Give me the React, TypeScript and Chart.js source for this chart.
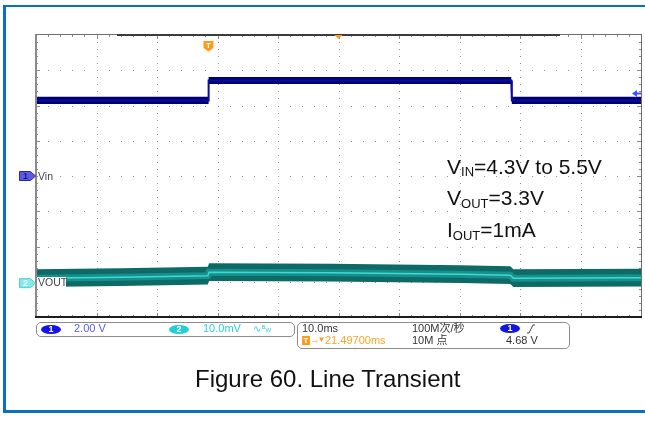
import React, { useEffect, useRef } from "react";
import { Chart, registerables } from "chart.js";

Chart.register(...registerables);

// ---- scope settings ----
const TIME_PER_DIV_MS = 10;
const H_DIVS = 10;
const V_DIVS = 8;
const H_POSITION_MS = 21.497; // screen centre relative to trigger
const CH1_V_PER_DIV = 2;
const CH2_MV_PER_DIV = 10;
const CH1_OFFSET_DIV = 0;
const CH2_OFFSET_DIV = -3.04;
const TRIGGER_LEVEL_V = 4.68;

// ---- channel 1: Vin (V) ----
const vinTimeMs = [-28.5, -0.03, 0.03, 50.05, 50.15, 71.5];
const vinVolts = [4.29, 4.29, 5.42, 5.42, 4.29, 4.29];
const VIN_NOISE_PP_V = 0.4;

// ---- channel 2: Vout (mV, AC coupled) ----
const voutTimeMs = [-28.5, -14.5, -0.1, 0.1, 20.2, 41.7, 49.9, 50.4, 71.5];
const voutMv = [1.42, 1.7, 2.13, 3.12, 2.98, 2.55, 2.27, 1.42, 1.56];
const VOUT_NOISE_PP_MV = 5.0;

const X_MIN = H_POSITION_MS - (H_DIVS / 2) * TIME_PER_DIV_MS;
const X_MAX = H_POSITION_MS + (H_DIVS / 2) * TIME_PER_DIV_MS;

const FONT = "'Liberation Sans', Arial, 'Noto Sans CJK SC', sans-serif";

const scopeDecor = {
  id: "scopeDecor",
  beforeDatasetsDraw(chart: any) {
    const { ctx, chartArea: a, scales } = chart;
    const x = scales.x;
    const y = scales.y;
    const W = a.right - a.left;
    const H = a.bottom - a.top;
    ctx.save();
    ctx.fillStyle = "#939393";
    for (let i = 1; i < H_DIVS; i++) {
      const px = Math.round(x.getPixelForValue(X_MIN + i * TIME_PER_DIV_MS));
      for (let j = 1; j < V_DIVS * 5; j++) {
        const py = Math.round(a.top + (j * H) / (V_DIVS * 5));
        ctx.fillRect(px, py, 1, 1);
      }
    }
    for (let i = 1; i < V_DIVS; i++) {
      const py = Math.round(y.getPixelForValue(-V_DIVS / 2 + i));
      for (let j = 1; j < H_DIVS * 5; j++) {
        const px = Math.round(a.left + (j * W) / (H_DIVS * 5));
        ctx.fillRect(px, py, 1, 1);
      }
    }
    ctx.fillStyle = "#8a8a8a";
    for (let j = 1; j < V_DIVS * 5; j++) {
      const py = Math.round(a.top + (j * H) / (V_DIVS * 5));
      const len = j % 5 === 0 ? 4 : 2;
      ctx.fillRect(a.left, py, len, 1);
      ctx.fillRect(a.right - len, py, len, 1);
    }
    for (let j = 1; j < H_DIVS * 5; j++) {
      const px = Math.round(a.left + (j * W) / (H_DIVS * 5));
      const len = j % 5 === 0 ? 4 : 2;
      ctx.fillRect(px, a.top, 1, len);
      ctx.fillRect(px, a.bottom - len, 1, len);
    }
    ctx.restore();
  },
  afterDatasetsDraw(chart: any) {
    const { ctx, chartArea: a, scales } = chart;
    const x = scales.x;
    const y = scales.y;
    const W = a.right - a.left;
    const H = a.bottom - a.top;
    ctx.save();
    // borders
    ctx.fillStyle = "#8a8a8a";
    ctx.fillRect(a.left - 1, a.top - 1, 2, H + 1);
    ctx.fillStyle = "#6e6e6e";
    ctx.fillRect(a.left, a.top - 1, W, 1);
    ctx.fillRect(a.right, a.top - 1, 1, H + 1);
    ctx.fillStyle = "#3c3c3c";
    ctx.fillRect(117, a.top - 1, 443, 2);
    ctx.fillStyle = "#1e1e1e";
    ctx.fillRect(a.left - 1, a.bottom - 1, W + 2, 2);

    // trigger position marker (T)
    const tx = x.getPixelForValue(0);
    ctx.fillStyle = "#ff9a1a";
    ctx.beginPath();
    ctx.moveTo(tx - 5, 41);
    ctx.lineTo(tx + 5, 41);
    ctx.lineTo(tx + 5, 48);
    ctx.lineTo(tx, 51.5);
    ctx.lineTo(tx - 5, 48);
    ctx.closePath();
    ctx.fill();
    ctx.fillStyle = "#ffffff";
    ctx.font = "bold 8px " + FONT;
    ctx.textAlign = "center";
    ctx.textBaseline = "middle";
    ctx.fillText("T", tx, 45.5);

    // horizontal position marker
    const cx = x.getPixelForValue(H_POSITION_MS);
    ctx.fillStyle = "#ff9a1a";
    ctx.beginPath();
    ctx.moveTo(cx - 4, a.top);
    ctx.lineTo(cx + 4, a.top);
    ctx.lineTo(cx, a.top + 4);
    ctx.closePath();
    ctx.fill();

    // trigger level arrow
    const ty = y.getPixelForValue(TRIGGER_LEVEL_V / CH1_V_PER_DIV + CH1_OFFSET_DIV);
    ctx.fillStyle = "#3a55ff";
    ctx.beginPath();
    ctx.moveTo(a.right - 9, ty);
    ctx.lineTo(a.right - 4, ty - 3.5);
    ctx.lineTo(a.right - 4, ty + 3.5);
    ctx.closePath();
    ctx.fill();
    ctx.fillRect(a.right - 5, ty - 1, 5, 2);

    // channel ground markers
    const marker = (cy: number, fill: string, stroke: string, label: string, lc: string) => {
      ctx.beginPath();
      ctx.moveTo(19.5, cy - 4.5);
      ctx.lineTo(30.5, cy - 4.5);
      ctx.lineTo(35.5, cy);
      ctx.lineTo(30.5, cy + 4.5);
      ctx.lineTo(19.5, cy + 4.5);
      ctx.closePath();
      ctx.fillStyle = fill;
      ctx.fill();
      ctx.strokeStyle = stroke;
      ctx.lineWidth = 1;
      ctx.stroke();
      ctx.fillStyle = lc;
      ctx.font = "bold 9px " + FONT;
      ctx.fillText(label, 25.5, cy + 0.5);
    };
    marker(y.getPixelForValue(CH1_OFFSET_DIV), "#5a5ae6", "#2a2a9a", "1", "#1c1c78");
    marker(y.getPixelForValue(CH2_OFFSET_DIV), "#86e9e9", "#55cccc", "2", "#e8ffff");
    ctx.restore();
  },
};

const Txt = ({ x, base, size, color = "#333", children, bg }: any) => (
  <div
    style={{
      position: "absolute",
      left: x,
      top: base - 0.8465 * size,
      fontSize: size,
      lineHeight: size + "px",
      color,
      whiteSpace: "nowrap",
      fontFamily: FONT,
      background: bg,
    }}
  >
    {children}
  </div>
);

const Badge = ({ x, y, bg, label }: any) => (
  <div
    style={{
      position: "absolute",
      left: x,
      top: y,
      width: 20,
      height: 9,
      borderRadius: "50%",
      background: bg,
      color: "#fff",
      fontSize: 9,
      fontWeight: "bold",
      lineHeight: "9px",
      textAlign: "center",
      fontFamily: FONT,
    }}
  >
    {label}
  </div>
);

export default function App() {
  const ref = useRef<HTMLCanvasElement>(null);

  useEffect(() => {
    const toVin = (v: number) => v / CH1_V_PER_DIV + CH1_OFFSET_DIV;
    const toVout = (mv: number) => mv / CH2_MV_PER_DIV + CH2_OFFSET_DIV;
    const vinUp = vinTimeMs.map((t, i) => ({ x: t, y: toVin(vinVolts[i] + VIN_NOISE_PP_V / 2) }));
    const vinLo = vinTimeMs.map((t, i) => ({ x: t, y: toVin(vinVolts[i] - VIN_NOISE_PP_V / 2) }));
    const vinMid = vinTimeMs.map((t, i) => ({ x: t, y: toVin(vinVolts[i]) }));
    const voUp = voutTimeMs.map((t, i) => ({ x: t, y: toVout(voutMv[i] + VOUT_NOISE_PP_MV / 2) }));
    const voLo = voutTimeMs.map((t, i) => ({ x: t, y: toVout(voutMv[i] - VOUT_NOISE_PP_MV / 2) }));
    const voMid = voutTimeMs.map((t, i) => ({ x: t, y: toVout(voutMv[i]) }));

    const none = "rgba(0,0,0,0)";
    const chart = new Chart(ref.current as HTMLCanvasElement, {
      type: "line",
      data: {
        datasets: [
          // index 0 is drawn last (on top)
          { data: vinMid, borderWidth: 2, borderColor: "#0b0ba0", fill: false },
          { data: voMid, borderWidth: 1.5, borderColor: "#3ddbd3", fill: false },
          { data: voMid, borderWidth: 7, borderColor: "#178f8a", fill: false },
          { data: vinUp, borderWidth: 0, borderColor: none, fill: false },
          { data: vinLo, borderWidth: 0, borderColor: none, fill: 3, backgroundColor: "#000070" },
          { data: voUp, borderWidth: 0, borderColor: none, fill: false },
          { data: voLo, borderWidth: 0, borderColor: none, fill: 5, backgroundColor: "#0d6a66" },
        ] as any,
      },
      options: {
        animation: false,
        responsive: false,
        events: [],
        layout: { padding: { left: 36, top: 35, right: 4, bottom: 122 } },
        plugins: { legend: { display: false }, tooltip: { enabled: false } },
        scales: {
          x: { type: "linear", min: X_MIN, max: X_MAX, display: false },
          y: { type: "linear", min: -V_DIVS / 2, max: V_DIVS / 2, display: false },
        },
        elements: { point: { radius: 0 }, line: { tension: 0 } },
        datasets: { line: { clip: 0 } } as any,
      },
      plugins: [scopeDecor],
    } as any);
    return () => chart.destroy();
  }, []);

  const blue = "#0a6fbe";
  return (
    <div
      style={{
        position: "fixed",
        left: 0,
        top: 0,
        width: 645,
        height: 439,
        background: "#fff",
        overflow: "hidden",
      }}
    >
      <canvas ref={ref} width={645} height={439} style={{ position: "absolute", left: 0, top: 0 }} />

      {/* frame */}
      <div style={{ position: "absolute", left: 3, top: 5, width: 3, height: 408, background: blue }} />
      <div style={{ position: "absolute", left: 3, top: 5, width: 642, height: 2, background: blue }} />
      <div style={{ position: "absolute", left: 3, top: 410, width: 642, height: 3, background: blue }} />

      {/* channel labels */}
      <Txt x={38} base={179.5} size={10.5} color="#444" bg="#fff">Vin</Txt>
      <div style={{ position: "absolute", left: 37, top: 277, width: 29, height: 11, background: "#fff" }} />
      <Txt x={38} base={286.3} size={10.5} color="#444">VOUT</Txt>

      {/* annotation */}
      <Txt x={447} base={173.3} size={21} color="#111">
        V<span style={{ fontSize: 13, position: "relative", top: 2.5, lineHeight: 0 }}>IN</span>=4.3V to 5.5V
      </Txt>
      <Txt x={447} base={205} size={21} color="#111">
        V<span style={{ fontSize: 13, position: "relative", top: 2.5, lineHeight: 0 }}>OUT</span>=3.3V
      </Txt>
      <Txt x={447} base={237} size={21} color="#111">
        I<span style={{ fontSize: 13, position: "relative", top: 2.5, lineHeight: 0 }}>OUT</span>=1mA
      </Txt>

      {/* info panel 1 */}
      <div
        style={{
          position: "absolute",
          left: 36,
          top: 322,
          width: 257,
          height: 13,
          border: "1px solid #8c8c8c",
          borderRadius: 5,
        }}
      />
      <Badge x={41} y={324.5} bg="#1414e6" label="1" />
      <Txt x={74} base={332.3} size={11} color="#5a5af0">2.00 V</Txt>
      <Badge x={169} y={324.5} bg="#1fd0d8" label="2" />
      <Txt x={203} base={332.3} size={11} color="#2ad0da">10.0mV</Txt>
      <Txt x={253} base={332.3} size={11} color="#2ad0da">
        <span style={{ fontFamily: "'DejaVu Sans'", fontSize: 10 }}>∿</span>
        <span style={{ fontSize: 6, position: "relative", top: -3, lineHeight: 0 }}>B</span>
        <span style={{ fontSize: 6, position: "relative", top: 0, lineHeight: 0 }}>W</span>
      </Txt>

      {/* info panel 2 */}
      <div
        style={{
          position: "absolute",
          left: 297,
          top: 322,
          width: 271,
          height: 25,
          border: "1px solid #8c8c8c",
          borderRadius: 5,
        }}
      />
      <Txt x={302} base={332.3} size={11} color="#333">10.0ms</Txt>
      <Txt x={412} base={332.3} size={11} color="#333">100M次/秒</Txt>
      <Badge x={500} y={324} bg="#1414e6" label="1" />
      <svg style={{ position: "absolute", left: 525, top: 324 }} width={12} height={10}>
        <polyline points="2,9 4,9 8,1 10,1" fill="none" stroke="#444" strokeWidth={1} />
      </svg>
      <div
        style={{
          position: "absolute",
          left: 302,
          top: 335.5,
          width: 8,
          height: 9,
          background: "#ff9a1a",
          color: "#fff",
          fontSize: 8,
          fontWeight: "bold",
          lineHeight: "9px",
          textAlign: "center",
          fontFamily: FONT,
        }}
      >
        T
      </div>
      <Txt x={310.5} base={343.5} size={9} color="#ff9a1a">→</Txt>
      <Txt x={317.5} base={343} size={8} color="#ff9a1a">▼</Txt>
      <Txt x={325} base={344.3} size={11} color="#ffa328">21.49700ms</Txt>
      <Txt x={412} base={344.3} size={11} color="#333">10M 点</Txt>
      <Txt x={506} base={344.3} size={11} color="#333">4.68 V</Txt>

      {/* caption */}
      <Txt x={195} base={387.3} size={24} color="#111">Figure 60. Line Transient</Txt>
    </div>
  );
}
